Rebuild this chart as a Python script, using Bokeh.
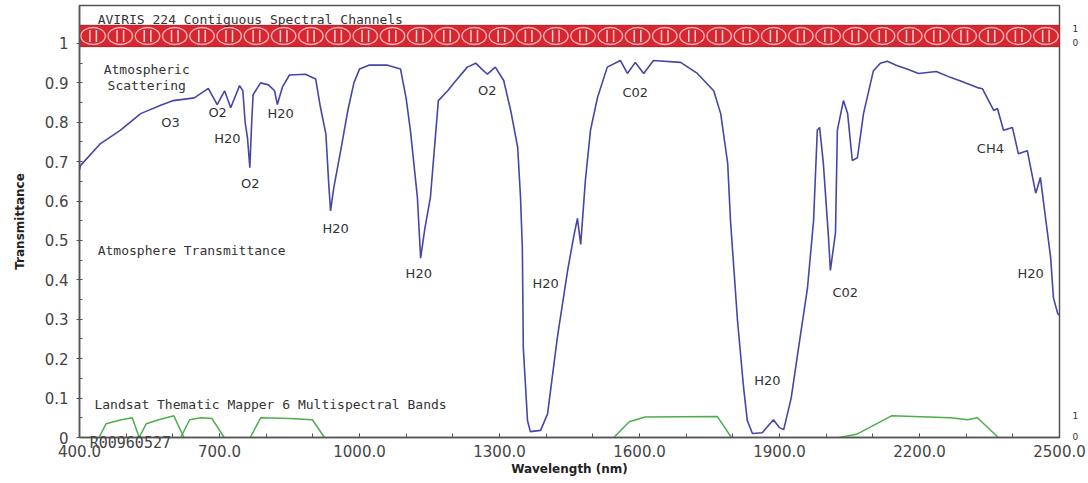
import numpy as np
from bokeh.plotting import figure
from bokeh.models import (Range1d, FixedTicker, PrintfTickFormatter, Label, ColumnDataSource,
                          LinearAxis)
from bokeh.core.properties import value
from bokeh.embed import file_html
from bokeh.resources import INLINE

# ---------------- data ----------------
wavelength = [400, 402, 445, 488, 531, 574, 601, 646, 676, 695, 711, 724, 743, 750, 755, 760, 765, 769,
              772, 788, 805, 818, 824, 835, 850, 884, 906, 916, 928, 934, 938, 945, 960, 975, 988, 1000,
              1020, 1060, 1088, 1100, 1109, 1124, 1131, 1140, 1152, 1169, 1189, 1201, 1231, 1249, 1262,
              1274, 1291, 1309, 1324, 1339, 1345, 1349, 1351, 1360, 1366, 1388, 1403, 1424, 1446, 1459,
              1467, 1474, 1484, 1495, 1510, 1531, 1559, 1574, 1591, 1609, 1630, 1688, 1724, 1759, 1774,
              1789, 1795, 1810, 1823, 1831, 1842, 1863, 1887, 1900, 1909, 1925, 1939, 1960, 1973, 1981,
              1986, 1994, 2005, 2009, 2020, 2024, 2037, 2046, 2056, 2067, 2080, 2101, 2116, 2131, 2150,
              2176, 2198, 2236, 2266, 2288, 2324, 2335, 2359, 2367, 2380, 2399, 2412, 2431, 2449, 2453,
              2459, 2470, 2481, 2487, 2496, 2500]
transmittance = [0.68, 0.69, 0.746, 0.78, 0.822, 0.843, 0.855, 0.862, 0.886, 0.845, 0.88, 0.837, 0.893,
                 0.88, 0.80, 0.76, 0.685, 0.80, 0.87, 0.90, 0.895, 0.88, 0.845, 0.89, 0.92, 0.922, 0.91,
                 0.84, 0.77, 0.645, 0.575, 0.635, 0.73, 0.83, 0.90, 0.935, 0.945, 0.945, 0.935, 0.86,
                 0.78, 0.61, 0.455, 0.53, 0.61, 0.855, 0.88, 0.898, 0.94, 0.95, 0.935, 0.922, 0.94, 0.906,
                 0.83, 0.736, 0.61, 0.48, 0.228, 0.043, 0.015, 0.018, 0.06, 0.254, 0.424, 0.51, 0.556,
                 0.49, 0.652, 0.78, 0.863, 0.94, 0.957, 0.924, 0.952, 0.924, 0.957, 0.952, 0.924, 0.88,
                 0.822, 0.695, 0.55, 0.297, 0.127, 0.043, 0.01, 0.012, 0.045, 0.025, 0.02, 0.10, 0.213,
                 0.38, 0.55, 0.78, 0.787, 0.695, 0.508, 0.424, 0.52, 0.78, 0.855, 0.822, 0.703, 0.71,
                 0.822, 0.93, 0.95, 0.955, 0.945, 0.934, 0.924, 0.929, 0.914, 0.905, 0.888, 0.885, 0.83,
                 0.835, 0.78, 0.787, 0.72, 0.728, 0.62, 0.635, 0.66, 0.558, 0.457, 0.355, 0.315, 0.31]

tm_band_wl = [[442, 457, 490, 513, 528],
              [528, 543, 570, 602, 624],
              [617, 636, 660, 684, 710],
              [766, 788, 850, 899, 925],
              [1545, 1578, 1612, 1767, 1797],
              [2028, 2065, 2140, 2266, 2303, 2324, 2369]]
tm_band_resp = [[0, 0.035, 0.045, 0.05, 0],
                [0, 0.035, 0.045, 0.055, 0],
                [0, 0.045, 0.05, 0.048, 0],
                [0, 0.05, 0.048, 0.045, 0],
                [0, 0.04, 0.052, 0.053, 0],
                [0, 0.008, 0.055, 0.05, 0.045, 0.05, 0]]

gas_names = ["O3", "O2", "H20", "O2", "H20", "H20", "H20", "O2", "H20", "C02", "H20", "C02", "CH4", "H20"]
gas_wl = [595, 696, 717, 766, 831, 949, 1127, 1274, 1399, 1591, 1874, 2041, 2352, 2438]
gas_t = [0.80, 0.825, 0.759, 0.645, 0.822, 0.53, 0.416, 0.88, 0.39, 0.875, 0.145, 0.368, 0.733, 0.416]

x_ticks = [400, 700, 1000, 1300, 1600, 1900, 2200, 2500]
x_minor = list(range(400, 2501, 100))
y_ticks = [0, 0.1, 0.2, 0.3, 0.4, 0.5, 0.6, 0.7, 0.8, 0.9, 1]
y_tick_labels = ["0", "0.1", "0.2", "0.3", "0.4", "0.5", "0.6", "0.7", "0.8", "0.9", "1"]
y_minor = [0.05, 0.15, 0.25, 0.35, 0.45, 0.55, 0.65, 0.75, 0.85, 0.95]

# small scales printed at the right edge (AVIRIS band and Landsat bands)
side_ticks = [0.003, 0.055, 1.003, 1.038]
side_labels = ["0", "1", "0", "1"]

scene_id = "R00960527"
scene_id_wl = 509

aviris_channels = 224
aviris_units = 36

# ---------------- figure ----------------
p = figure(width=1088, height=483, output_backend="svg", toolbar_location=None,
           x_range=Range1d(400, 2500), y_range=Range1d(0, 1.0964),
           min_border_left=79, min_border_right=29, min_border_top=5, min_border_bottom=46)
p.grid.visible = False
p.background_fill_color = "white"
p.border_fill_color = "white"
p.outline_line_color = "#555555"
p.outline_line_width = 1.5

FONT = "DejaVu Sans"
MONO = "DejaVu Sans Mono"
TXT = "#333333"

xa = p.xaxis[0]
xa.ticker = FixedTicker(ticks=x_ticks, minor_ticks=x_minor)
xa.formatter = PrintfTickFormatter(format="%.1f")
xa.axis_line_color = "#555555"
xa.axis_line_width = 1.5
xa.major_tick_in = 4
xa.major_tick_out = 0
xa.minor_tick_in = 4
xa.minor_tick_out = 0
xa.major_tick_line_color = "#555555"
xa.minor_tick_line_color = "#555555"
xa.major_label_text_font = FONT
xa.major_label_text_font_size = "15px"
xa.major_label_text_color = "#444444"
xa.major_label_standoff = 7
xa.axis_label = "Wavelength (nm)"
xa.axis_label_text_font = FONT
xa.axis_label_text_font_size = "12px"
xa.axis_label_text_font_style = "bold"
xa.axis_label_text_color = "#222222"
xa.axis_label_standoff = 2

# scene id printed just under the axis (second, label-only axis pulled up)
sa = LinearAxis(ticker=FixedTicker(ticks=[scene_id_wl], minor_ticks=[]),
                major_label_overrides={scene_id_wl: scene_id})
sa.axis_line_color = None
sa.major_tick_line_color = None
sa.minor_tick_line_color = None
sa.major_tick_in = 0
sa.major_tick_out = 0
sa.major_label_standoff = -45
sa.major_label_text_font = MONO
sa.major_label_text_font_size = "15px"
sa.major_label_text_color = "#444444"
p.add_layout(sa, "below")

ya = p.yaxis[0]
ya.ticker = FixedTicker(ticks=y_ticks, minor_ticks=y_minor)
ya.major_label_overrides = {t: s for t, s in zip(y_ticks, y_tick_labels)}
ya.axis_line_color = "#555555"
ya.axis_line_width = 1.5
ya.major_tick_in = 3
ya.major_tick_out = 3
ya.minor_tick_in = 3
ya.minor_tick_out = 0
ya.major_tick_line_color = "#555555"
ya.minor_tick_line_color = "#555555"
ya.major_label_text_font = FONT
ya.major_label_text_font_size = "15px"
ya.major_label_text_color = "#444444"
ya.major_label_standoff = 8
ya.axis_label = "Transmittance"
ya.axis_label_text_font = FONT
ya.axis_label_text_font_size = "12px"
ya.axis_label_text_font_style = "bold"
ya.axis_label_text_color = "#222222"
ya.axis_label_standoff = 15

ra = LinearAxis(ticker=FixedTicker(ticks=side_ticks, minor_ticks=[]),
                major_label_overrides={t: s for t, s in zip(side_ticks, side_labels)})
ra.axis_line_color = None
ra.major_tick_line_color = None
ra.minor_tick_line_color = None
ra.major_tick_out = 0
ra.major_tick_in = 0
ra.major_label_standoff = 13
ra.major_label_text_font = FONT
ra.major_label_text_font_size = "9px"
ra.major_label_text_color = "#333333"
p.add_layout(ra, "right")

# ---- AVIRIS channel band ----
band_lo, band_hi = 0.992, 1.046
p.quad(left=[400], right=[2500], bottom=[band_lo], top=[band_hi],
       fill_color="#d7262f", line_color="#b71c24", line_width=1)
unit_w = 2100 / aviris_units
centers = 400 + (np.arange(aviris_units) + 0.5) * unit_w
p.ellipse(x=centers, y=[(band_lo + band_hi) / 2] * aviris_units, width=unit_w * 0.9,
          height=(band_hi - band_lo) * 0.8, fill_color=None, line_color="#ffd0d0",
          line_alpha=0.85, line_width=1.3)
xs_seg = np.concatenate([centers - unit_w * 0.12, centers + unit_w * 0.12])
p.segment(x0=xs_seg, x1=xs_seg, y0=[band_lo + 0.012] * len(xs_seg), y1=[band_hi - 0.012] * len(xs_seg),
          line_color="#ffe6e6", line_alpha=0.9, line_width=1.5)

# ---- curves ----
p.multi_line(xs=tm_band_wl, ys=tm_band_resp, line_color="#4cae4c", line_width=1.5)
p.line(wavelength, transmittance, line_color="#4646a6", line_width=1.6)

# ---- gas labels ----
src = ColumnDataSource(dict(x=gas_wl, y=gas_t, t=gas_names))
p.text(x="x", y="y", text="t", source=src, text_font=value(FONT), text_font_size="13px",
       text_color=TXT, text_align="center", text_baseline="middle")

def lab(x, y, text, size="13px", align="left", color=TXT, font=MONO):
    p.add_layout(Label(x=x, y=y, text=text, text_font=font, text_font_size=size, text_align=align,
                       text_baseline="middle", text_color=color))

lab(439, 1.061, "AVIRIS 224 Contiguous Spectral Channels")
lab(544, 0.934, "Atmospheric", align="center")
lab(544, 0.893, "Scattering", align="center")
lab(439, 0.475, "Atmosphere Transmittance")
lab(432, 0.084, "Landsat Thematic Mapper 6 Multispectral Bands")

open("out.html", "w").write(file_html(p, INLINE))
